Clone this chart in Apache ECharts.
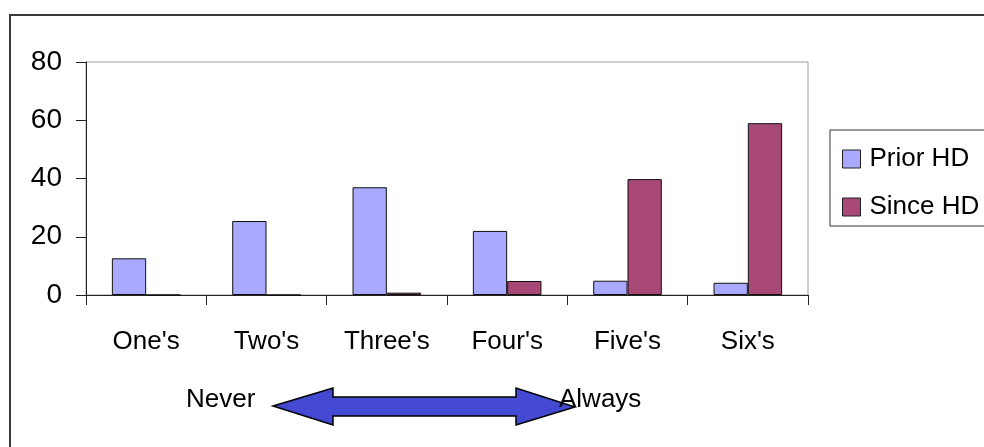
<!DOCTYPE html>
<html>
<head>
<meta charset="utf-8">
<script src="https://cdn.jsdelivr.net/npm/echarts@6/dist/echarts.min.js"></script>
<style>
  html, body { margin: 0; padding: 0; background: #fff; }
  #chart { width: 984px; height: 447px; }
</style>
</head>
<body>
<div id="chart"></div>
<script>
// Rating groups on the 1–6 scale (1 = never, 6 = always)
const categories = ["One's", "Two's", "Three's", "Four's", "Five's", "Six's"];
const priorHD = [12.6, 25.4, 37, 22, 4.9, 4.2];
const sinceHD = [0, 0, 0.8, 4.8, 39.8, 59];
const yTicks = { min: 0, max: 80, interval: 20 };

const FONT = '"Liberation Sans", Arial, sans-serif';

const chart = echarts.init(document.getElementById('chart'), null, { renderer: 'canvas' });

chart.setOption({
  animation: false,
  backgroundColor: '#ffffff',
  textStyle: { fontFamily: FONT },
  grid: {
    left: 86, right: 176, top: 62, bottom: 152,
    show: true, borderColor: '#9c9c9c', borderWidth: 1
  },
  legend: {
    orient: 'vertical',
    left: 830, top: 130,
    padding: [16, 6, 6, 12],
    borderColor: '#333', borderWidth: 1,
    itemWidth: 18, itemHeight: 18,
    itemGap: 22,
    icon: 'rect',
    itemStyle: { borderColor: '#222', borderWidth: 1 },
    textStyle: { fontSize: 26, color: '#000', fontFamily: FONT, padding: [0, 0, 0, 4] },
    data: ['Prior HD', 'Since HD']
  },
  xAxis: {
    type: 'category',
    data: categories,
    boundaryGap: true,
    axisLine: { lineStyle: { color: '#222', width: 1 } },
    axisTick: { show: true, length: 10, inside: false, lineStyle: { color: '#222' } },
    axisLabel: { fontSize: 26, color: '#000', margin: 34, fontFamily: FONT },
    splitLine: { show: false }
  },
  yAxis: {
    type: 'value',
    min: yTicks.min, max: yTicks.max, interval: yTicks.interval,
    axisLine: { show: true, lineStyle: { color: '#222', width: 1 } },
    axisTick: { show: true, length: 10, inside: false, lineStyle: { color: '#222' } },
    axisLabel: { fontSize: 28, color: '#000', margin: 24, fontFamily: FONT },
    splitLine: { show: false }
  },
  series: [
    {
      name: 'Prior HD', type: 'bar', data: priorHD,
      barGap: '0%', barCategoryGap: '43%',
      itemStyle: { color: '#A9AAFE', borderColor: '#111', borderWidth: 1 }
    },
    {
      name: 'Since HD', type: 'bar', data: sinceHD,
      barGap: '0%', barCategoryGap: '43%',
      itemStyle: { color: '#A84876', borderColor: '#111', borderWidth: 1 }
    }
  ],
  graphic: [
    // outer chart frame
    {
      type: 'rect', silent: true, z: 0,
      shape: { x: 10, y: 15, width: 1000, height: 500 },
      style: { fill: null, stroke: '#3a3a3a', lineWidth: 2 }
    },
    // double-headed scale arrow between "Never" and "Always"
    {
      type: 'polygon', silent: true, z: 10,
      shape: {
        points: [
          [273, 406], [333, 388], [333, 397], [516, 397], [516, 388],
          [575, 407], [516, 425], [516, 416], [333, 416], [333, 425]
        ]
      },
      style: { fill: '#4349D1', stroke: '#000', lineWidth: 1.5 }
    },
    {
      type: 'text', silent: true, z: 11,
      left: 186, top: 387,
      style: { text: 'Never', fontSize: 26, fill: '#000', fontFamily: FONT }
    },
    {
      type: 'text', silent: true, z: 11,
      left: 559, top: 387,
      style: { text: 'Always', fontSize: 26, fill: '#000', fontFamily: FONT }
    }
  ]
});
</script>
</body>
</html>
